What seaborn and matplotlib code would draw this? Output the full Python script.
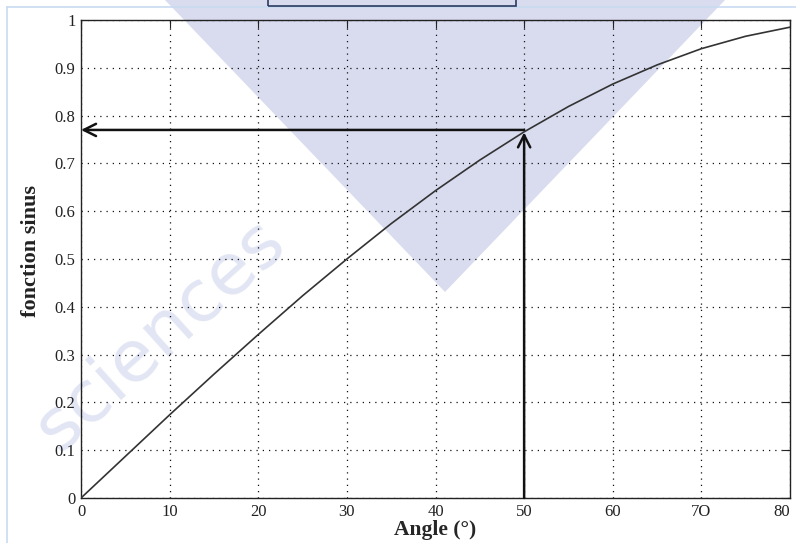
import numpy as np
import pandas as pd
import matplotlib
matplotlib.use("Agg")
import matplotlib.pyplot as plt
from matplotlib.patches import Polygon, Rectangle
from matplotlib.lines import Line2D
import seaborn as sns

# values (angle in degrees, sine)
angles = [0, 5, 10, 15, 20, 25, 30, 35, 40, 45, 50, 55, 60, 65, 70, 75, 80]
sinus = [0.0, 0.087, 0.174, 0.259, 0.342, 0.423, 0.5, 0.574, 0.643, 0.707,
         0.766, 0.819, 0.866, 0.906, 0.940, 0.966, 0.985]

x_ticks = [0, 10, 20, 30, 40, 50, 60, 70, 80]
x_labels = ["0", "10", "20", "30", "40", "50", "60", "7O", "80"]
y_ticks = [0, 0.1, 0.2, 0.3, 0.4, 0.5, 0.6, 0.7, 0.8, 0.9, 1]
y_labels = ["0", "0.1", "0.2", "0.3", "0.4", "0.5", "0.6", "0.7", "0.8", "0.9", "1"]

# arrow read-off point
angle_read = 50
value_read = 0.77

df = pd.DataFrame({"angle": angles, "sinus": sinus})

sns.set_style("white")
plt.rcParams["font.family"] = ["Liberation Serif", "DejaVu Serif"]

fig = plt.figure(figsize=(7.96, 5.43), dpi=100)
ax = fig.add_axes([81 / 796, 1 - 498 / 543, (790 - 81) / 796, (498 - 20) / 543])
ax.set_zorder(2)
ax.set_facecolor("none")

# watermark-like background shapes (behind the axes)
fig.patches.append(Polygon([(165 / 796, 1.0), (725 / 796, 1.0), (445 / 796, 1 - 292 / 543)],
                           closed=True, transform=fig.transFigure,
                           facecolor="#d9dcef", edgecolor="none", zorder=0))
fig.text(160 / 796, 1 - 335 / 543, "sciences", fontsize=52, color="#e2e5f3", rotation=42,
         ha="center", va="center", family="DejaVu Sans", zorder=1)

sns.lineplot(data=df, x="angle", y="sinus", ax=ax, color="#333333", linewidth=1.2, zorder=3)

# arrows
ax.annotate("", xy=(angle_read, 0.765), xytext=(angle_read, 0),
            arrowprops=dict(arrowstyle="->", color="#111111", lw=1.8,
                            mutation_scale=22, shrinkA=0, shrinkB=0), zorder=4)
ax.annotate("", xy=(0, value_read), xytext=(angle_read, value_read),
            arrowprops=dict(arrowstyle="->", color="#111111", lw=1.8,
                            mutation_scale=22, shrinkA=0, shrinkB=0), zorder=4)

ax.set_xlim(0, 80)
ax.set_ylim(0, 1)
ax.set_xticks(x_ticks)
ax.set_xticklabels(x_labels)
ax.set_yticks(y_ticks)
ax.set_yticklabels(y_labels)
ax.tick_params(direction="in", top=True, right=True, length=6, width=0.8,
               labelsize=12, colors="#222222", pad=4)
ax.get_xticklabels()[-1].set_ha("right")
ax.grid(True, linestyle=(0, (1, 4)), color="#111111", linewidth=0.9)
for s in ax.spines.values():
    s.set_color("#222222")
    s.set_linewidth(1.0)
    s.set_visible(True)

ax.set_xlabel("Angle (°)", fontsize=15.5, fontweight="bold", labelpad=0)
ax.set_ylabel("fonction sinus", fontsize=16, fontweight="bold", color="#222222")
ax.yaxis.set_label_coords(-0.057, 0.517)

# page decoration: box at the top and thin frame lines
fig.patches.append(Rectangle((268 / 796, 1 - 6 / 543), 248 / 796, 0.05,
                             transform=fig.transFigure, facecolor="none",
                             edgecolor="#2a3a60", linewidth=1.2, zorder=5))
fig.lines.append(Line2D([7 / 796, 7 / 796], [0, 1 - 7 / 543], transform=fig.transFigure,
                        color="#c8daf0", linewidth=1.2))
fig.lines.append(Line2D([7 / 796, 1], [1 - 7 / 543, 1 - 7 / 543], transform=fig.transFigure,
                        color="#c8daf0", linewidth=1.2))

fig.savefig("out.png", dpi=100)
